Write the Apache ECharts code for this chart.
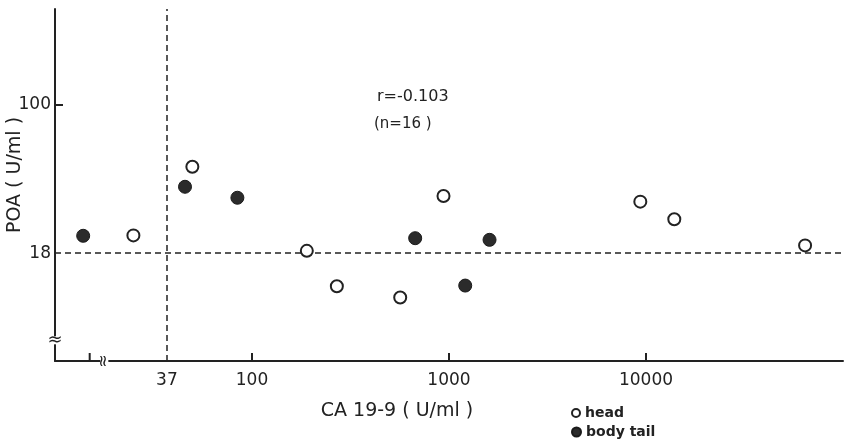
<!DOCTYPE html>
<html><head><meta charset="utf-8">
<script src="https://cdn.jsdelivr.net/npm/echarts@6/dist/echarts.min.js"></script>
<style>html,body{margin:0;padding:0;background:#fff}#c{width:845px;height:440px}</style>
</head><body><div id="c"></div>
<script>
// CA 19-9 (U/ml) and POA (U/ml) values per group
const headCA = [25.0, 49.8, 189.8, 269.6, 565.4, 937.8, 9357, 13920, 64200];
const headPOA = [22.1, 48.7, 18.5, 12.3, 10.8, 34.8, 32.6, 26.6, 19.7];
const bodyCA = [13.9, 45.7, 84.3, 673.5, 1208.7, 1606];
const bodyPOA = [22.0, 38.7, 34.1, 21.4, 12.4, 21.0];
const xTickLabels = [37, 100, 1000, 10000];
const xTicks = [15, 100, 1000, 10000];
const yTickLabels = [18, 100];
const yTicks = [100];
const cutoffCA = 37;
const cutoffPOA = 18;
const seriesNames = ['head', 'body tail'];

const ink = '#222';
const font = 'DejaVu Sans';
const chart = echarts.init(document.getElementById('c'));
const zip = (a, b) => a.map((v, i) => [v, b[i]]);
const X_MIN = 10, X_MAX = 100000, Y_MIN = 5.2, Y_MAX = 300;

chart.setOption({
  animation: false,
  backgroundColor: '#fff',
  grid: {left: 55, right: 2, top: 9, bottom: 79},
  xAxis: {
    type: 'log', logBase: 10, min: X_MIN, max: X_MAX,
    axisLine: {lineStyle: {color: ink, width: 2}},
    axisTick: {show: false},
    axisLabel: {customValues: xTickLabels, color: ink, fontFamily: font, fontSize: 17, margin: 11,
      formatter: v => String(Math.round(v))},
    splitLine: {show: false}, minorTick: {show: false}
  },
  yAxis: {
    type: 'log', logBase: 10, min: Y_MIN, max: Y_MAX,
    axisLine: {show: true, lineStyle: {color: ink, width: 2}},
    axisTick: {show: true, interval: 0, inside: true, length: 8, lineStyle: {color: ink, width: 2}, customValues: yTicks},
    axisLabel: {customValues: yTickLabels, color: ink, fontFamily: font, fontSize: 17, margin: 4,
      formatter: v => String(Math.round(v))},
    splitLine: {show: false}
  },
  legend: [
    {left: 566, top: 401, itemWidth: 8, itemHeight: 8, itemGap: 6,
      textStyle: {color: ink, fontFamily: font, fontSize: 14, fontWeight: 'bold'},
      data: [{name: seriesNames[0], icon: 'circle'}]},
    {left: 566, top: 420, itemWidth: 9, itemHeight: 9, itemGap: 6,
      textStyle: {color: ink, fontFamily: font, fontSize: 14, fontWeight: 'bold'},
      data: [{name: seriesNames[1], icon: 'circle'}]}
  ],
  series: [
    {
      name: seriesNames[0], type: 'scatter', symbol: 'circle', symbolSize: 12,
      itemStyle: {color: '#fff', borderColor: ink, borderWidth: 2, opacity: 1},
      data: zip(headCA, headPOA), z: 5,
      markLine: {
        silent: true, symbol: 'none', label: {show: false},
        lineStyle: {color: ink, type: [6, 4], width: 1.5},
        data: [{xAxis: cutoffCA}, {yAxis: cutoffPOA}]
      }
    },
    {
      name: seriesNames[1], type: 'scatter', symbol: 'circle', symbolSize: 13,
      itemStyle: {color: '#2b2b2b', borderColor: '#1a1a1a', borderWidth: 1, opacity: 1},
      data: zip(bodyCA, bodyPOA), z: 5
    }
  ]
});

function addGraphics() {
  const px = v => chart.convertToPixel({gridIndex: 0}, v);
  const origin = px([X_MIN, Y_MIN]);
  const yBreak = px([X_MIN, 6.6]);
  const xBreak = px([17.8, Y_MIN]);
  const top = px([X_MIN, Y_MAX]);
  const tickMarks = xTicks.map(v => {
    const p = px([v, Y_MIN]);
    return {type: 'line', shape: {x1: p[0], y1: p[1], x2: p[0], y2: p[1] - 8},
      style: {stroke: ink, lineWidth: 2}, z: 9};
  });
  chart.setOption({
    graphic: tickMarks.concat([
      {type: 'rect', shape: {x: yBreak[0] - 5, y: yBreak[1] - 4, width: 10, height: 8}, style: {fill: '#fff'}, z: 10},
      {type: 'text', x: yBreak[0], y: yBreak[1], style: {text: '≈', font: '18px ' + font, fill: ink, align: 'center', verticalAlign: 'middle'}, z: 11},
      {type: 'rect', shape: {x: xBreak[0] - 4, y: xBreak[1] - 4, width: 8, height: 8}, style: {fill: '#fff'}, z: 10},
      {type: 'text', x: xBreak[0], y: xBreak[1], rotation: Math.PI / 2, style: {text: '≈', font: '16px ' + font, fill: ink, align: 'center', verticalAlign: 'middle'}, z: 11},
      {type: 'text', x: 15, y: (origin[1] + top[1]) / 2 - 10, rotation: Math.PI / 2,
        style: {text: 'POA ( U/ml )', font: '19px ' + font, fill: ink, align: 'center', verticalAlign: 'middle'}},
      {type: 'text', x: 397, y: 411, style: {text: 'CA 19-9 ( U/ml )', font: '19px ' + font, fill: ink, align: 'center', verticalAlign: 'middle'}},
      {type: 'text', x: 377, y: 97, style: {text: 'r=-0.103', font: '16px ' + font, fill: ink, align: 'left', verticalAlign: 'middle'}},
      {type: 'text', x: 374, y: 124, style: {text: '(n=16 )', font: '15px ' + font, fill: ink, align: 'left', verticalAlign: 'middle'}}
    ])
  });
}
addGraphics();
</script>
</body></html>
